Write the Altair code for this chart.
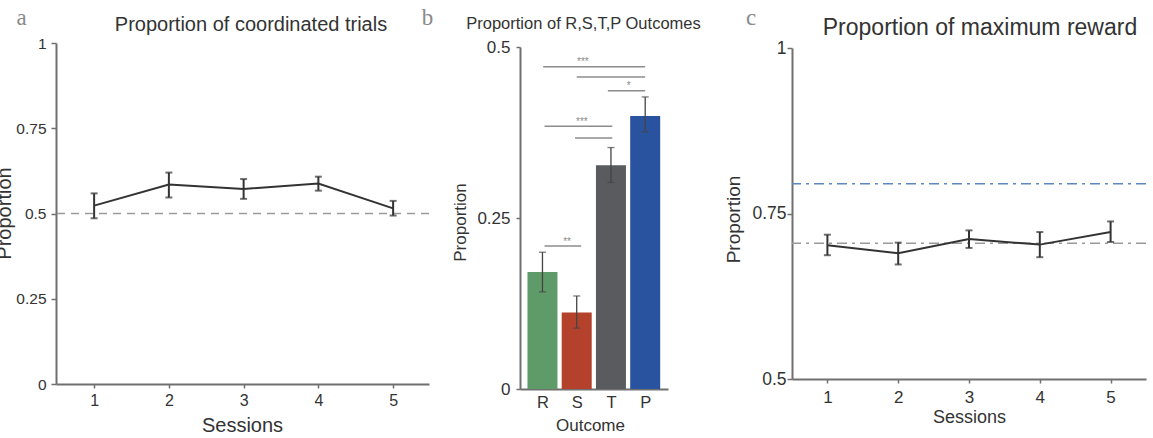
import altair as alt
import pandas as pd

# ---------------- data ----------------
sessions = [1, 2, 3, 4, 5]

coord_mean = [0.523, 0.585, 0.572, 0.588, 0.515]
coord_lo = [0.486, 0.547, 0.543, 0.567, 0.494]
coord_hi = [0.559, 0.620, 0.601, 0.608, 0.537]
coord_chance = [0.5]

outcomes = ["R", "S", "T", "P"]
outcome_mean = [0.171, 0.112, 0.327, 0.399]
outcome_lo = [0.142, 0.089, 0.302, 0.376]
outcome_hi = [0.200, 0.136, 0.353, 0.427]

# significance brackets (start / end on the outcome axis, height)
sig_x1 = [0.02, 1.0, 1.91, 0.06, 0.95, 0.06]
sig_x2 = [3.0, 3.0, 3.0, 2.04, 2.04, 1.13]
sig_y = [0.471, 0.456, 0.436, 0.384, 0.367, 0.209]
star_text = ["***", "*", "***", "**"]
star_x = [1.18, 2.52, 1.15, 0.72]
star_y = [0.471, 0.436, 0.384, 0.209]

reward_mean = [0.702, 0.690, 0.7115, 0.703, 0.722]
reward_lo = [0.687, 0.673, 0.698, 0.684, 0.707]
reward_hi = [0.718, 0.706, 0.7245, 0.722, 0.738]
reward_refs = [0.795, 0.705]
reward_ref_names = ["optimal", "baseline"]

ticks_a = [0, 0.25, 0.5, 0.75, 1]
ticks_b = [0, 0.25, 0.5]
ticks_c = [0.5, 0.75, 1]

titles = ["Proportion of coordinated trials", "Proportion of R,S,T,P Outcomes",
          "Proportion of maximum reward"]
letters = ["a", "b", "c"]

# ---------------- styles ----------------
FONT = "Liberation Sans"
SERIF = "Liberation Serif"
INK = "#333333"
AXIS = "#707070"
bar_colors = ["#5f9b68", "#b4412b", "#5a5b5f", "#29539e"]
ref_colors = ["#5b87c2", "#9a9a9a"]
NUM_LABEL = "'' + datum.value"


def text_layer(txt, x, y, size, font=FONT, color=INK, align="center"):
    return alt.Chart(pd.DataFrame({"t": [txt]})).mark_text(
        font=font, fontSize=size, color=color, align=align, baseline="alphabetic"
    ).encode(x=alt.value(x), y=alt.value(y), text="t:N")


# ---------------- panel a ----------------
A_W, A_H = 373, 341
df_a = pd.DataFrame({"session": sessions, "mean": coord_mean, "lo": coord_lo, "hi": coord_hi})
xa_scale = alt.Scale(domain=[0.49, 5.48], nice=False, zero=False)
ya_scale = alt.Scale(domain=[0, 1], nice=False, zero=False)

base_a = alt.Chart(df_a)
line_a = base_a.mark_line(color=INK, strokeWidth=2).encode(
    x=alt.X("session:Q", scale=xa_scale,
            axis=alt.Axis(values=sessions, labelExpr=NUM_LABEL, title="Sessions",
                          labelFontSize=16, titleFontSize=20, tickSize=4,
                          labelBaseline="alphabetic", labelPadding=17,
                          titleX=186, titleY=47, titleBaseline="alphabetic",
                          titleAlign="center", labelFlush=False)),
    y=alt.Y("mean:Q", scale=ya_scale,
            axis=alt.Axis(values=ticks_a, labelExpr=NUM_LABEL, title="Proportion",
                          labelFontSize=15.5, titleFontSize=20, tickSize=5, labelPadding=5,
                          titleAngle=270, titleAlign="center", titleBaseline="bottom",
                          titleX=-42, titleY=170)),
)
chance_a = alt.Chart(pd.DataFrame({"y": coord_chance})).mark_rule(
    color="#9a9a9a", strokeWidth=1.6, strokeDash=[8, 6]
).encode(y=alt.Y("y:Q", scale=ya_scale))
err_a = base_a.mark_rule(color=INK, strokeWidth=2).encode(
    x=alt.X("session:Q", scale=xa_scale), y=alt.Y("lo:Q", scale=ya_scale), y2="hi:Q")
caphi_a = base_a.mark_tick(color=INK, orient="horizontal", size=7, thickness=2).encode(
    x=alt.X("session:Q", scale=xa_scale), y=alt.Y("hi:Q", scale=ya_scale))
caplo_a = base_a.mark_tick(color=INK, orient="horizontal", size=7, thickness=2).encode(
    x=alt.X("session:Q", scale=xa_scale), y=alt.Y("lo:Q", scale=ya_scale))
title_a = text_layer(titles[0], 195, -12, 20)
letter_a = text_layer(letters[0], -34.5, -18, 23, font=SERIF, color="#8a8a8a")

panel_a = alt.layer(chance_a, line_a, err_a, caphi_a, caplo_a, title_a, letter_a).properties(
    width=A_W, height=A_H)

# ---------------- panel b ----------------
B_W, B_H = 181, 346
df_b = pd.DataFrame({"outcome": outcomes, "pos": list(range(len(outcomes))),
                     "mean": outcome_mean, "lo": outcome_lo, "hi": outcome_hi})
xb_scale = alt.Scale(domain=[-0.51, 3.52], range=[0, 148], nice=False, zero=False)
yb_scale = alt.Scale(domain=[0, 0.5], range=[346, 4], nice=False, zero=False)
label_expr = "[" + ",".join("'%s'" % o for o in outcomes) + "][datum.value]"

base_b = alt.Chart(df_b)
bars_b = base_b.mark_bar(orient="vertical", size=30).encode(
    x=alt.X("pos:Q", scale=xb_scale,
            axis=alt.Axis(values=list(range(len(outcomes))), labelExpr=label_expr,
                          title="Outcome", labelFontSize=16.5, titleFontSize=17, tickSize=0,
                          labelBaseline="alphabetic", labelPadding=18,
                          titleX=70, titleY=41, titleBaseline="alphabetic",
                          titleAlign="center", labelFlush=False)),
    y=alt.Y("mean:Q", scale=yb_scale,
            axis=alt.Axis(values=ticks_b, labelExpr=NUM_LABEL, title="Proportion",
                          labelFontSize=17, titleFontSize=17, tickSize=4, labelPadding=6,
                          titleAngle=270, titleAlign="center", titleBaseline="bottom",
                          titleX=-51, titleY=179)),
    color=alt.Color("outcome:N", scale=alt.Scale(domain=outcomes, range=bar_colors),
                    legend=None),
)
err_b = base_b.mark_rule(color="#444444", strokeWidth=1.3).encode(
    x=alt.X("pos:Q", scale=xb_scale), y=alt.Y("lo:Q", scale=yb_scale), y2="hi:Q")
caphi_b = base_b.mark_tick(color="#444444", orient="horizontal", size=7, thickness=1.3).encode(
    x=alt.X("pos:Q", scale=xb_scale), y=alt.Y("hi:Q", scale=yb_scale))
caplo_b = base_b.mark_tick(color="#444444", orient="horizontal", size=7, thickness=1.3).encode(
    x=alt.X("pos:Q", scale=xb_scale), y=alt.Y("lo:Q", scale=yb_scale))
sig_b = alt.Chart(pd.DataFrame({"x1": sig_x1, "x2": sig_x2, "y": sig_y})).mark_rule(
    color="#8c8c8c", strokeWidth=1.5
).encode(x=alt.X("x1:Q", scale=xb_scale), x2="x2:Q", y=alt.Y("y:Q", scale=yb_scale))
stars_b = alt.Chart(pd.DataFrame({"t": star_text, "x": star_x, "y": star_y})).mark_text(
    font=FONT, fontSize=10, color="#8c8c8c", baseline="alphabetic", dy=-1.5
).encode(x=alt.X("x:Q", scale=xb_scale), y=alt.Y("y:Q", scale=yb_scale), text="t:N")
title_b = text_layer(titles[1], 63.5, -14.5, 16.5)
letter_b = text_layer(letters[1], -92.5, -18, 23, font=SERIF, color="#8a8a8a")

panel_b = alt.layer(bars_b, err_b, caphi_b, caplo_b, sig_b, stars_b, title_b, letter_b).properties(
    width=B_W, height=B_H)

# ---------------- panel c ----------------
C_W, C_H = 354, 336
df_c = pd.DataFrame({"session": sessions, "mean": reward_mean, "lo": reward_lo, "hi": reward_hi})
xc_scale = alt.Scale(domain=[0.5, 5.5], nice=False, zero=False)
yc_scale = alt.Scale(domain=[0.5, 1], range=[336, 5], nice=False, zero=False)

base_c = alt.Chart(df_c)
refs_c = alt.Chart(pd.DataFrame({"y": reward_refs, "k": reward_ref_names})).mark_rule(
    strokeWidth=1.6, strokeDash=[10, 5, 3, 5]
).encode(y=alt.Y("y:Q", scale=yc_scale),
         color=alt.Color("k:N", scale=alt.Scale(domain=reward_ref_names, range=ref_colors),
                         legend=None))
line_c = base_c.mark_line(color=INK, strokeWidth=2).encode(
    x=alt.X("session:Q", scale=xc_scale,
            axis=alt.Axis(values=sessions, labelExpr=NUM_LABEL, title="Sessions",
                          labelFontSize=17, titleFontSize=18, tickSize=4,
                          labelBaseline="alphabetic", labelPadding=19,
                          titleX=177, titleY=43, titleBaseline="alphabetic",
                          titleAlign="center", labelFlush=False)),
    y=alt.Y("mean:Q", scale=yc_scale,
            axis=alt.Axis(values=ticks_c, labelExpr=NUM_LABEL, title="Proportion",
                          labelFontSize=17.5, titleFontSize=19, tickSize=5, labelPadding=1,
                          titleAngle=270, titleAlign="center", titleBaseline="bottom",
                          titleX=-49, titleY=176)),
)
err_c = base_c.mark_rule(color=INK, strokeWidth=2).encode(
    x=alt.X("session:Q", scale=xc_scale), y=alt.Y("lo:Q", scale=yc_scale), y2="hi:Q")
caphi_c = base_c.mark_tick(color=INK, orient="horizontal", size=7, thickness=2).encode(
    x=alt.X("session:Q", scale=xc_scale), y=alt.Y("hi:Q", scale=yc_scale))
caplo_c = base_c.mark_tick(color=INK, orient="horizontal", size=7, thickness=2).encode(
    x=alt.X("session:Q", scale=xc_scale), y=alt.Y("lo:Q", scale=yc_scale))
title_c = text_layer(titles[2], 188, -8, 23)
letter_c = text_layer(letters[2], -41, -18, 23, font=SERIF, color="#8a8a8a")

panel_c = alt.layer(refs_c, line_c, err_c, caphi_c, caplo_c, title_c, letter_c).properties(
    width=C_W, height=C_H)

# ---------------- assemble ----------------
chart = alt.hconcat(panel_a, panel_b, panel_c, spacing=91, bounds="flush").properties(
    padding={"left": -7, "top": 6, "right": 0, "bottom": 0},
    background="white",
).configure_view(stroke="transparent").configure_axis(
    domainColor=AXIS, domainWidth=2, tickColor=AXIS, tickWidth=1.5,
    labelFont=FONT, titleFont=FONT, labelColor=INK, titleColor=INK,
    titleFontWeight="normal", grid=False, labelOverlap=False,
).resolve_scale(color="independent")

chart.save("out.html", embed_options={"renderer": "svg", "actions": False})
